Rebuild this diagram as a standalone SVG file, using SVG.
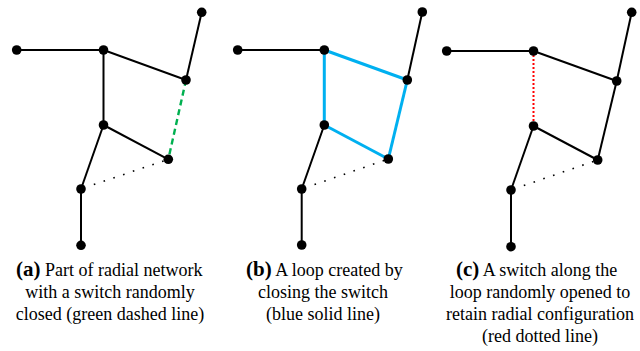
<svg xmlns="http://www.w3.org/2000/svg" width="640" height="351" viewBox="0 0 640 351">
<style>
.e{stroke:#000;stroke-width:2;fill:none}
.blue{stroke:#00B0F0;stroke-width:3;fill:none}
.green{stroke:#00B050;stroke-width:2.4;stroke-dasharray:6 4;fill:none}
.red{stroke:#FF0000;stroke-width:2;stroke-dasharray:2 2;fill:none}
.dot{stroke:#000;stroke-width:1.6;stroke-dasharray:1.6 8.7;fill:none}
.n{fill:#000}
.t{font-family:'Liberation Serif','Times New Roman',serif;font-size:18px;fill:#000}
.m{text-anchor:middle}
.b{font-weight:bold;font-size:21px}
</style>
<rect width="640" height="351" fill="#fff"/>
<g id="connectors">
<line class="e" x1="16.7" y1="50" x2="103.5" y2="50"/>
<line class="e" x1="103.5" y1="50" x2="103.5" y2="125"/>
<line class="e" x1="103.5" y1="50" x2="186" y2="80"/>
<line class="e" x1="201.7" y1="12.3" x2="186" y2="80"/>
<line class="e" x1="103.5" y1="125" x2="168.3" y2="159.3"/>
<line class="e" x1="103.5" y1="125" x2="81" y2="189"/>
<line class="e" x1="81" y1="189" x2="81" y2="245.3"/>
<line class="green" x1="186" y1="80" x2="168.3" y2="159.3"/>
<line class="dot" x1="93.8" y1="184.6" x2="168.3" y2="159.3"/>
<line class="e" x1="237.7" y1="50" x2="324.3" y2="50"/>
<line class="blue" x1="324.3" y1="50" x2="324.3" y2="125"/>
<line class="blue" x1="324.3" y1="50" x2="407.3" y2="80"/>
<line class="e" x1="422.3" y1="12" x2="407.3" y2="80"/>
<line class="blue" x1="324.3" y1="125" x2="388.3" y2="159"/>
<line class="blue" x1="407.3" y1="80" x2="388.3" y2="159"/>
<line class="e" x1="324.3" y1="125" x2="301.7" y2="189"/>
<line class="e" x1="301.7" y1="189" x2="301.7" y2="245"/>
<line class="dot" x1="314.5" y1="184.6" x2="388.3" y2="159"/>
<line class="e" x1="446.7" y1="51" x2="533.5" y2="51"/>
<line class="red" x1="533.5" y1="51" x2="533.5" y2="126"/>
<line class="e" x1="533.5" y1="51" x2="616.7" y2="81"/>
<line class="e" x1="631.7" y1="12.3" x2="616.7" y2="81"/>
<line class="e" x1="616.7" y1="81" x2="597.7" y2="160"/>
<line class="e" x1="533.5" y1="126" x2="597.7" y2="160"/>
<line class="e" x1="533.5" y1="126" x2="511" y2="190"/>
<line class="e" x1="511" y1="190" x2="511" y2="246.7"/>
<line class="dot" x1="523.8" y1="185.6" x2="597.7" y2="160"/>
</g>
<g id="panel-a-nodes">
<g id="a-n1"><circle class="n" cx="16.7" cy="50" r="4.8"/></g>
<g id="a-n2"><circle class="n" cx="103.5" cy="50" r="4.8"/></g>
<g id="a-n3"><circle class="n" cx="201.7" cy="12.3" r="4.8"/></g>
<g id="a-n4"><circle class="n" cx="186" cy="80" r="4.8"/></g>
<g id="a-n5"><circle class="n" cx="103.5" cy="125" r="4.8"/></g>
<g id="a-n6"><circle class="n" cx="168.3" cy="159.3" r="4.8"/></g>
<g id="a-n7"><circle class="n" cx="81" cy="189" r="4.8"/></g>
<g id="a-n8"><circle class="n" cx="81" cy="245.3" r="4.8"/></g>
</g>
<g id="panel-b-nodes">
<g id="b-n1"><circle class="n" cx="237.7" cy="50" r="4.8"/></g>
<g id="b-n2"><circle class="n" cx="324.3" cy="50" r="4.8"/></g>
<g id="b-n3"><circle class="n" cx="422.3" cy="12" r="4.8"/></g>
<g id="b-n4"><circle class="n" cx="407.3" cy="80" r="4.8"/></g>
<g id="b-n5"><circle class="n" cx="324.3" cy="125" r="4.8"/></g>
<g id="b-n6"><circle class="n" cx="388.3" cy="159" r="4.8"/></g>
<g id="b-n7"><circle class="n" cx="301.7" cy="189" r="4.8"/></g>
<g id="b-n8"><circle class="n" cx="301.7" cy="245" r="4.8"/></g>
</g>
<g id="panel-c-nodes">
<g id="c-n1"><circle class="n" cx="446.7" cy="51" r="4.8"/></g>
<g id="c-n2"><circle class="n" cx="533.5" cy="51" r="4.8"/></g>
<g id="c-n3"><circle class="n" cx="631.7" cy="12.3" r="4.8"/></g>
<g id="c-n4"><circle class="n" cx="616.7" cy="81" r="4.8"/></g>
<g id="c-n5"><circle class="n" cx="533.5" cy="126" r="4.8"/></g>
<g id="c-n6"><circle class="n" cx="597.7" cy="160" r="4.8"/></g>
<g id="c-n7"><circle class="n" cx="511" cy="190" r="4.8"/></g>
<g id="c-n8"><circle class="n" cx="511" cy="246.7" r="4.8"/></g>
</g>
<g id="caption-a">
<text class="t" x="16" y="275.7"><tspan class="b">(a)</tspan> Part of radial network</text>
<text class="t m" x="110" y="297.7">with a switch randomly</text>
<text class="t m" x="110" y="320">closed (green dashed line)</text>
</g>
<g id="caption-b">
<text class="t" x="246" y="275.7"><tspan class="b">(b)</tspan> A loop created by</text>
<text class="t m" x="323" y="297.7">closing the switch</text>
<text class="t m" x="323" y="320">(blue solid line)</text>
</g>
<g id="caption-c">
<text class="t" x="456" y="275.7"><tspan class="b">(c)</tspan> A switch along the</text>
<text class="t m" x="540" y="297.7">loop randomly opened to</text>
<text class="t m" x="540" y="320">retain radial configuration</text>
<text class="t m" x="540" y="342.3">(red dotted line)</text>
</g>
</svg>
